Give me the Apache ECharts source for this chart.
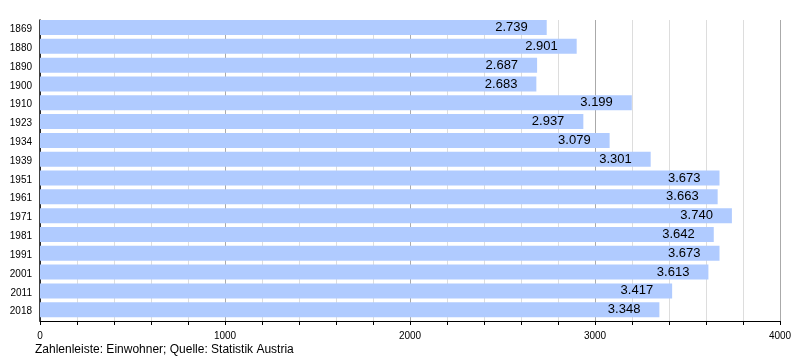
<!DOCTYPE html>
<html><head><meta charset="utf-8">
<script src="https://cdn.jsdelivr.net/npm/echarts@6/dist/echarts.min.js"></script>
<style>html,body{margin:0;padding:0;background:#fff}#c{width:800px;height:360px}</style>
</head><body><div id="c"></div>
<script>
const years = ['1869','1880','1890','1900','1910','1923','1934','1939','1951','1961','1971','1981','1991','2001','2011','2018'];
const population = [2739,2901,2687,2683,3199,2937,3079,3301,3673,3663,3740,3642,3673,3613,3417,3348];
const xTicks = [0,1000,2000,3000,4000];

const fmt = v => { const s = String(v); return s.length > 3 ? s.slice(0, s.length-3) + '.' + s.slice(-3) : s; };
const chart = echarts.init(document.getElementById('c'), null, {renderer:'canvas'});
chart.setOption({
  animation:false,
  textStyle:{fontFamily:'Liberation Sans'},
  grid:{left:40,right:20,top:20,bottom:39,containLabel:false},
  xAxis:{type:'value',min:xTicks[0],max:xTicks[xTicks.length-1],interval:1000,
    axisLine:{show:true,lineStyle:{color:'#000',width:1}},
    axisTick:{show:true,length:4,lineStyle:{color:'#000'}},
    minorTick:{show:true,splitNumber:5,length:4,lineStyle:{color:'#000'}},
    splitLine:{show:true,lineStyle:{color:'#aaaaaa',width:1}},
    minorSplitLine:{show:true,lineStyle:{color:'#dddddd',width:1}},
    axisLabel:{color:'#000',fontSize:10,margin:10,formatter:v=>String(v)}},
  yAxis:{type:'category',data:years,inverse:true,
    axisLine:{show:true,lineStyle:{color:'#000',width:1.5}},
    axisTick:{show:false},
    axisLabel:{color:'#000',fontSize:10,margin:8,padding:[0,0,4,0]}},
  series:[
    {type:'bar',data:population,barWidth:15,barGap:0,
      itemStyle:{color:'#b0cbff'},
      label:{show:true,position:'insideRight',distance:19,color:'#000',fontSize:13,
        formatter:p=>fmt(p.value)}},
    {type:'bar',data:years.map(()=>'-'),barWidth:3.8,barGap:0,silent:true}
  ],
  graphic:[{type:'text',left:35,top:344,style:{text:'Zahlenleiste: Einwohner; Quelle: Statistik Austria',fill:'#000',font:'12px "Liberation Sans"'}}]
});
</script></body></html>
